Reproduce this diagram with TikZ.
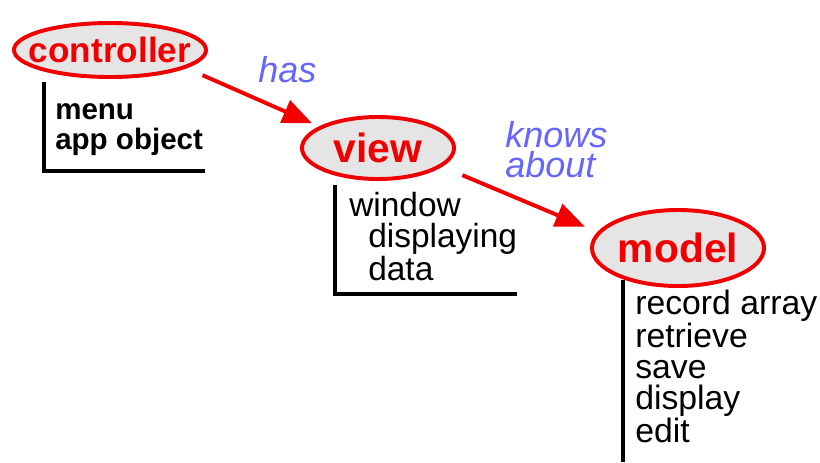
\documentclass[tikz,border=0pt]{standalone}
\usepackage{fontspec}
\setmainfont{Liberation Sans}
\usetikzlibrary{shapes.geometric,arrows.meta}
\definecolor{mvcred}{RGB}{240,0,0}
\definecolor{mvcblue}{RGB}{102,102,255}
\tikzstyle{part} = [ellipse, draw=mvcred, fill=gray!20, line width=2.8pt, inner sep=0pt, outer sep=0pt, text=mvcred, font=\fontsize{29}{29}\selectfont\bfseries]
\tikzstyle{duties} = [anchor=base west, align=left, inner sep=0pt]
\tikzstyle{relation} = [anchor=base west, align=left, inner sep=0pt, text=mvcblue, font=\fontsize{25.6}{21.3}\selectfont\itshape]
\tikzstyle{arrow} = [draw=mvcred, line width=2.8pt, -{Triangle[length=21pt,width=17pt]}]
\tikzstyle{bracket} = [line width=2.3pt]
\newcommand{\nowidth}[1]{\makebox[0pt]{#1}}

\begin{document}
\begin{tikzpicture}[x=0.025cm, y=-0.025cm]
		\useasboundingbox (0,0) rectangle (820,462);
		% Nodes
		\node (controller) [part, minimum width=4.8cm, minimum height=1.35cm, font=\fontsize{25}{25}\selectfont\bfseries] at (110,50) {\nowidth{controller}};
		\node (view) [part, minimum width=3.8cm, minimum height=1.55cm] at (378,148) {\nowidth{view}};
		\node (model) [part, minimum width=4.3cm, minimum height=1.9cm] at (678,248) {\nowidth{model}};
		% lists (anchored at the last line)
		\node (menu) [duties, font=\fontsize{21}{21.3}\selectfont\bfseries] at (55,149) {menu\\app object};
		\node (window) [duties, font=\fontsize{23.8}{21.7}\selectfont] at (349,280) {window\\\hspace*{13.5pt}displaying\\\hspace*{13.5pt}data};
		\node (records) [duties, font=\fontsize{24}{22}\selectfont] at (635,442) {record array\\retrieve\\save\\display\\edit};
		\node (has) [relation] at (258,82) {has};
		\node (knows) [relation] at (505,177) {knows\\about};
		% Arrows
		\draw [arrow, shorten <=0.5cm, shorten >=0.25cm] (controller.-13) -- (view.160);
		\draw [arrow, shorten <=0.6cm, shorten >=0.39cm] (view.-16) -- (model.169);
		% Brackets
		\draw [bracket] (44,82) |- (205,171);
		\draw [bracket] (335,185) |- (517,294);
		\draw [bracket] (623,280) -- (623,462);
	\end{tikzpicture}
\end{document}
